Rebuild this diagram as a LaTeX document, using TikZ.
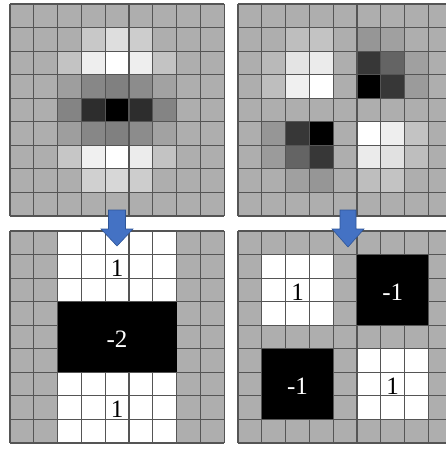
\documentclass[tikz,border=0pt]{standalone}
\usepackage{fontspec}
\setmainfont{Liberation Serif}
\definecolor{basegray}{RGB}{174,174,174}
\definecolor{gridline}{RGB}{85,85,85}
\definecolor{arrowblue}{RGB}{68,114,196}
\definecolor{arrowedge}{RGB}{47,85,151}
\tikzset{
  gridstroke/.style={draw=gridline, line width=1.1pt},
  arrowshape/.style={fill=arrowblue, draw=arrowedge, line width=0.6pt, line join=miter},
  numlabel/.style={font=\fontsize{25}{25}\selectfont, inner sep=0pt},
}
\newcommand{\gridat}[2]{% x0, y0
  \foreach \i in {0,...,9} {
    \draw[gridstroke] ({#1+\i*23.8},#2) -- ({#1+\i*23.8},{#2+212});
    \draw[gridstroke] (#1,{#2+\i*23.556}) -- ({#1+214.2},{#2+\i*23.556});
  }
}
\newcommand{\cellat}[5]{% x0,y0,col,row,value
  \fill[fill={rgb,255:red,#5;green,#5;blue,#5}] ({#1+#3*23.8},{#2+#4*23.556}) rectangle ++(23.8,23.556);
}
\begin{document}
\begin{tikzpicture}[x=1pt,y=-1pt]
\useasboundingbox (0,0) rectangle (446,449);
\fill[white] (0,0) rectangle (446,449);
\begin{scope}
\clip (0,0) rectangle (446,449);
% ---------- top-left ----------
\fill[basegray] (10,4) rectangle ++(214.2,212);
\foreach \c/\r/\v in {3/1/200,4/1/222,5/1/205,
  2/2/195,3/2/238,4/2/255,5/2/238,6/2/195,
  2/3/158,3/3/135,4/3/128,5/3/140,6/3/162,
  2/4/132,3/4/45,4/4/0,5/4/45,6/4/132,
  2/5/158,3/5/135,4/5/128,5/5/140,6/5/162,
  2/6/198,3/6/240,4/6/255,5/6/236,6/6/195,
  3/7/208,4/7/215,5/7/205}
  {\cellat{10}{4}{\c}{\r}{\v}}
\gridat{10}{4}
% ---------- top-right ----------
\fill[basegray] (238,4) rectangle ++(214.2,212);
\foreach \c/\r/\v in {2/1/190,3/1/195,5/1/150,6/1/160,
  1/2/185,2/2/228,3/2/235,5/2/55,6/2/100,7/2/160,
  1/3/190,2/3/240,3/3/255,5/3/0,6/3/55,7/3/155,
  1/5/150,2/5/55,3/5/0,5/5/255,6/5/238,7/5/195,
  1/6/155,2/6/100,3/6/55,5/6/235,6/6/225,7/6/190,
  2/7/160,3/7/150,5/7/190,6/7/195}
  {\cellat{238}{4}{\c}{\r}{\v}}
\gridat{238}{4}
% ---------- bottom-left ----------
\fill[basegray] (10,231) rectangle ++(214.2,212);
\fill[white] ({10+2*23.8},231) rectangle ++({5*23.8},212);
\gridat{10}{231}
\fill[black] ({10+2*23.8},{231+3*23.556}) rectangle ++({5*23.8},{3*23.556});
\node[numlabel] (bl1) at (117,{231+1.5*23.556+2}) {1};
\node[numlabel, text=white] (bl2) at (117,{231+4.5*23.556+2}) {-2};
\node[numlabel] (bl3) at (117,{231+7.5*23.556+2}) {1};
% ---------- bottom-right ----------
\fill[basegray] (238,231) rectangle ++(214.2,212);
\fill[white] ({238+1*23.8},{231+1*23.556}) rectangle ++({3*23.8},{3*23.556});
\fill[white] ({238+5*23.8},{231+5*23.556}) rectangle ++({3*23.8},{3*23.556});
\gridat{238}{231}
\fill[black] ({238+5*23.8},{231+1*23.556}) rectangle ++({3*23.8},{3*23.556});
\fill[black] ({238+1*23.8},{231+5*23.556}) rectangle ++({3*23.8},{3*23.556});
\node[numlabel] (br1) at ({238+2.5*23.8},{231+2.5*23.556+2}) {1};
\node[numlabel, text=white] (br2) at ({238+6.5*23.8},{231+2.5*23.556+2}) {-1};
\node[numlabel, text=white] (br3) at ({238+2.5*23.8},{231+6.5*23.556+2}) {-1};
\node[numlabel] (br4) at ({238+6.5*23.8},{231+6.5*23.556+2}) {1};
% ---------- arrows ----------
\draw[arrowshape] (108.5,210) -- (125.5,210) -- (125.5,229) -- (133,229) -- (117,246) -- (101,229) -- (108.5,229) -- cycle;
\draw[arrowshape] (340,210) -- (356,210) -- (356,229) -- (364,229) -- (348,247) -- (332,229) -- (340,229) -- cycle;
\end{scope}
\end{tikzpicture}
\end{document}
